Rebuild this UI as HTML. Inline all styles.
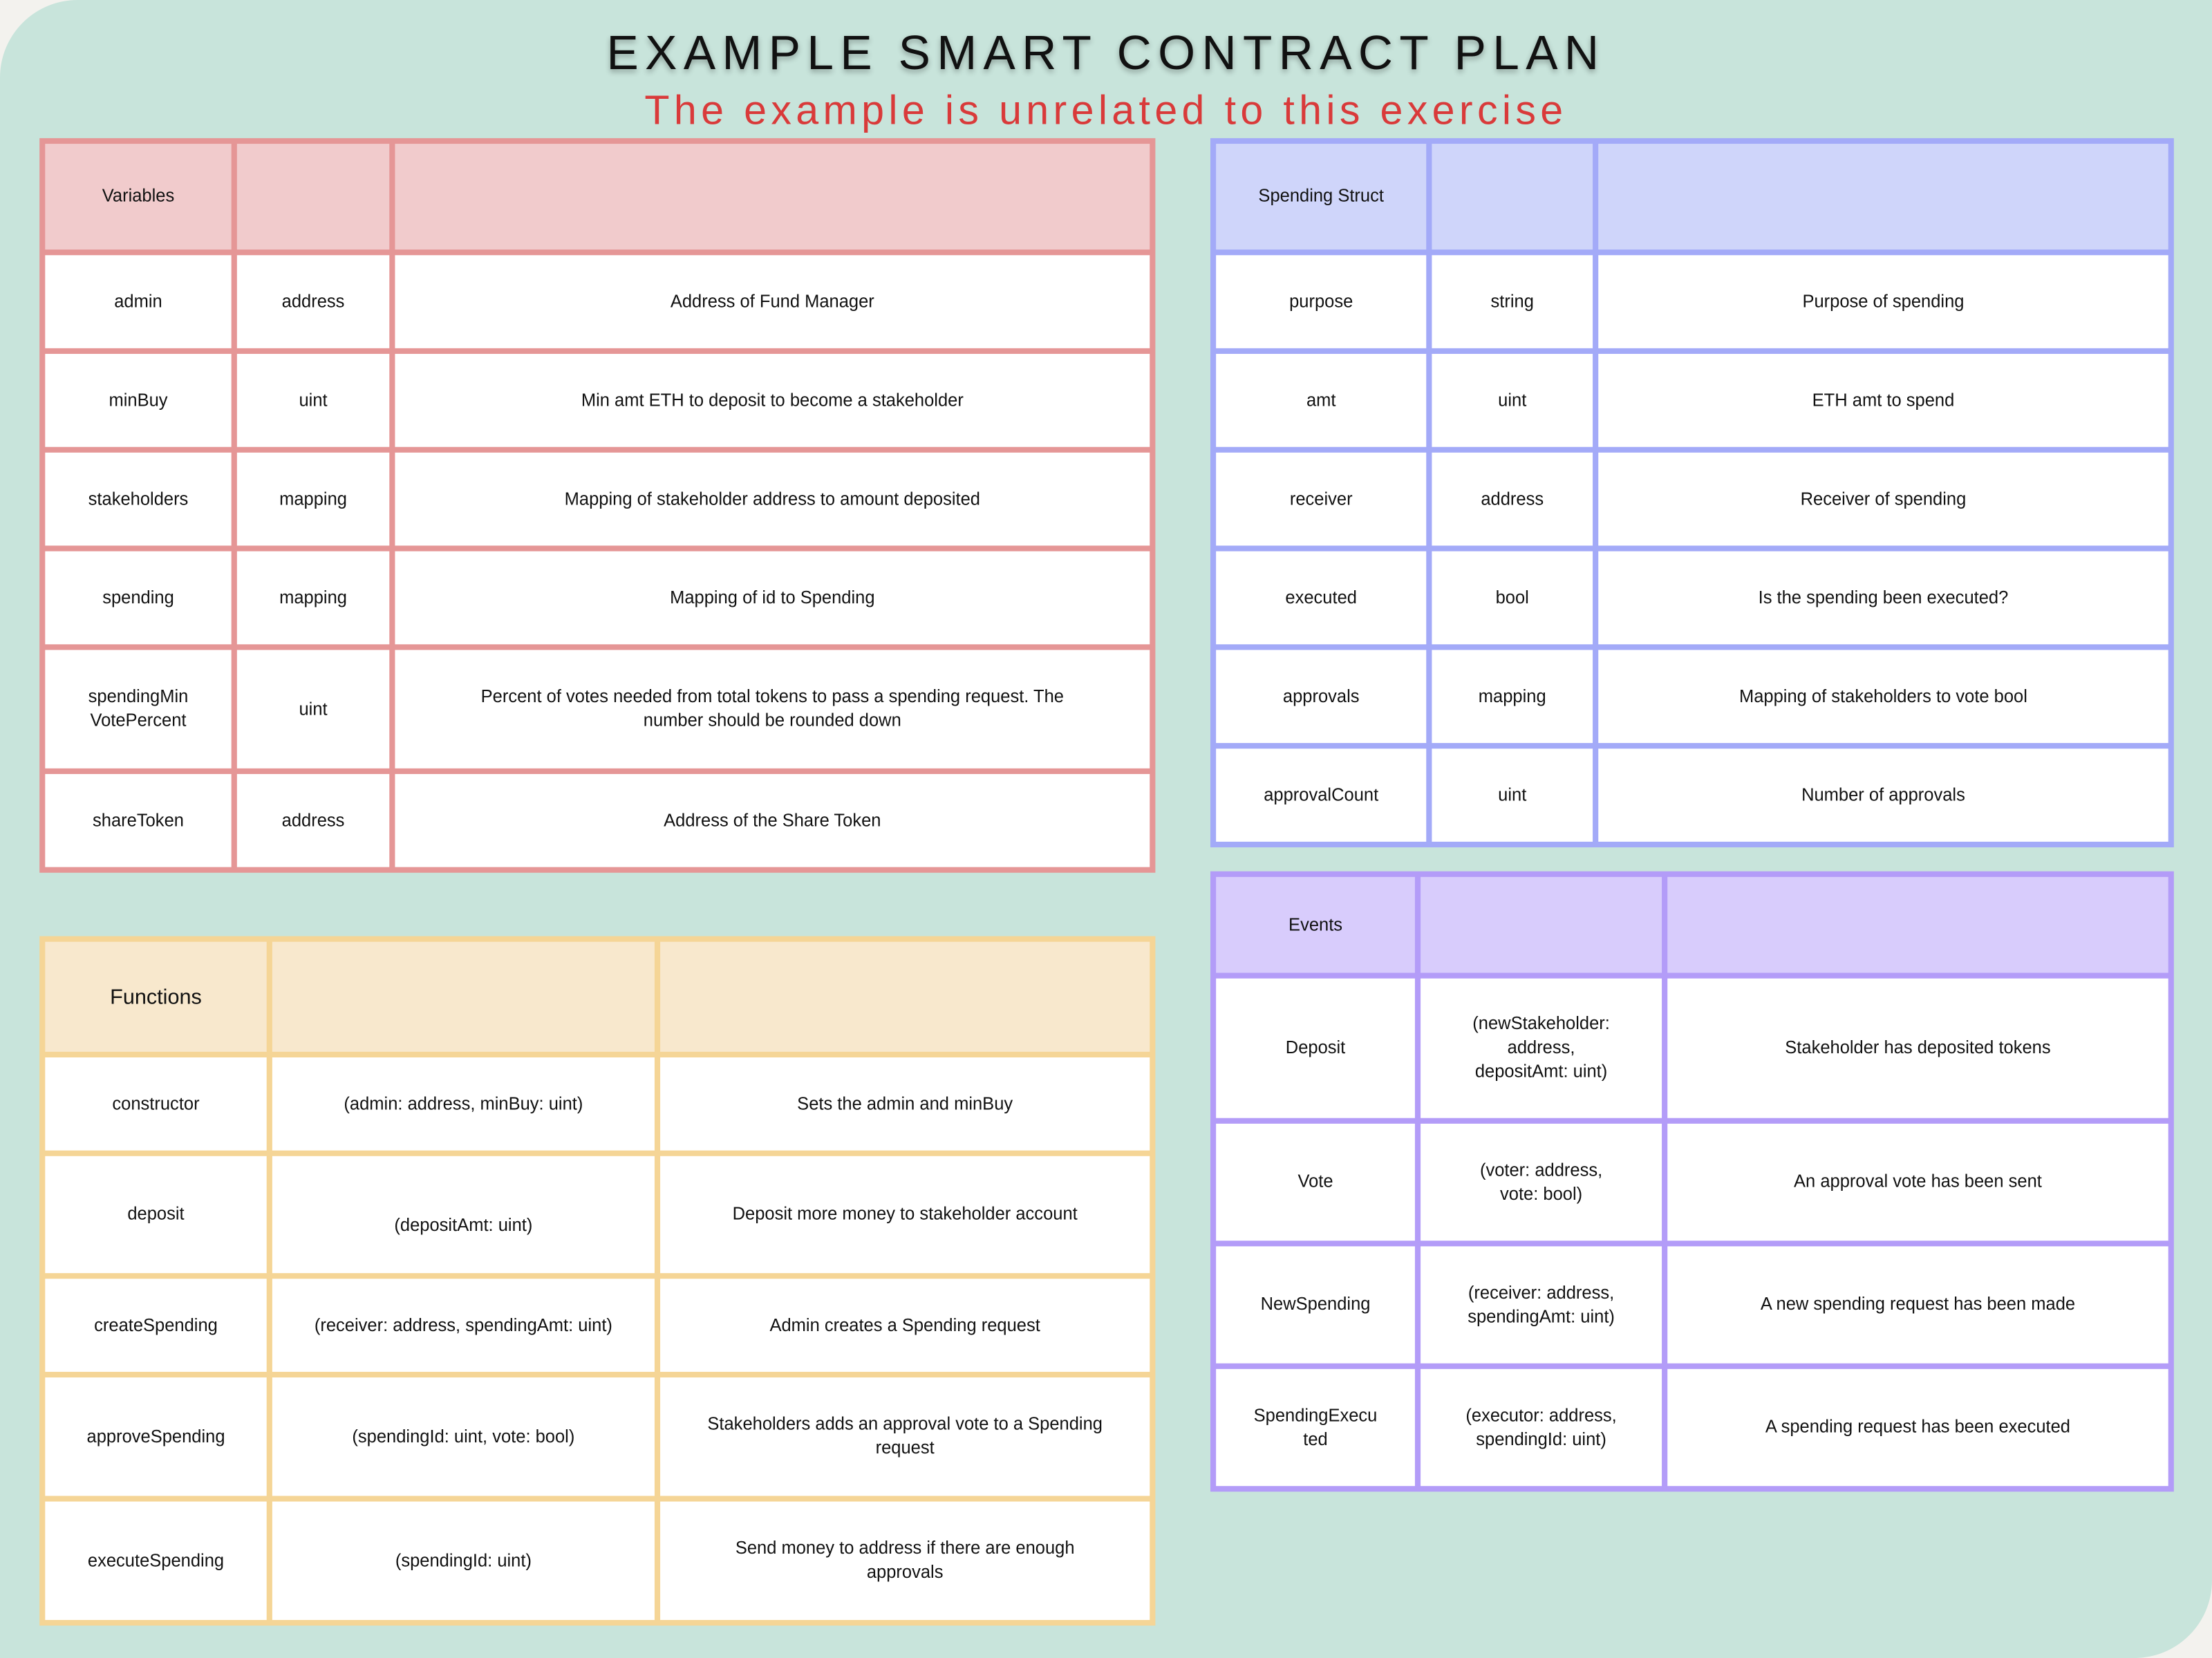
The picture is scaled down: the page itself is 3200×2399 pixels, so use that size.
<!DOCTYPE html>
<html><head><meta charset="utf-8"><style>
html,body{margin:0;padding:0;background:#f3f2ee;}
#wrap{width:3200px;height:2399px;overflow:hidden;position:relative;background:#f3f2ee;}
#page{position:absolute;left:0;top:0;width:1568px;height:1176px;transform-origin:0 0;transform:scale(2.0408,2.0400);background:#c8e4db;border-radius:55px 0 55px 0;font-family:"Liberation Sans",sans-serif;}
.title{position:absolute;left:0;width:1568px;text-align:center;top:19px;font-size:34px;letter-spacing:4.6px;color:#111;text-shadow:0 2px 4px rgba(0,0,0,0.3);}
.sub{position:absolute;left:0;width:1568px;text-align:center;top:63px;font-size:29px;letter-spacing:3.1px;color:#d93a3a;}
.tbl{position:absolute;display:grid;gap:4px;padding:4px;box-sizing:border-box;}
.tbl div{display:flex;align-items:center;justify-content:center;text-align:center;background:#fff;font-size:12.5px;color:#111;padding:0 10px;line-height:17px;}
#vars{left:28px;top:98px;width:791px;background:#e59696;grid-template-columns:132px 108px 535px;grid-template-rows:75px 66px 66px 66px 66px 84px 66px;}
#vars .h{background:#f1cbcc;}
#spend{left:858px;top:98px;width:683px;background:#a3aaf8;grid-template-columns:149px 114px 404px;grid-template-rows:75px 66px 66px 66px 66px 66px 66px;}
#spend .h{background:#cfd5fa;}
#funcs{left:28px;top:664px;width:791px;background:#f5d596;grid-template-columns:157px 271px 347px;grid-template-rows:78px 66px 83px 66px 84px 84px;}
#funcs .h{background:#f8e8cd;}
#events{left:858px;top:618px;width:683px;background:#b39cf8;grid-template-columns:141px 171px 355px;grid-template-rows:68px 99px 83px 83px 83px;}
#events .h{background:#d8ccfc;}
</style></head><body>
<div id="wrap">
<div id="page">
<div class="title">EXAMPLE SMART CONTRACT PLAN</div>
<div class="sub">The example is unrelated to this exercise</div>

<div class="tbl" id="vars">
<div class="h">Variables</div><div class="h"></div><div class="h"></div>
<div>admin</div><div>address</div><div>Address of Fund Manager</div>
<div>minBuy</div><div>uint</div><div>Min amt ETH to deposit to become a stakeholder</div>
<div>stakeholders</div><div>mapping</div><div>Mapping of stakeholder address to amount deposited</div>
<div>spending</div><div>mapping</div><div>Mapping of id to Spending</div>
<div>spendingMin<br>VotePercent</div><div>uint</div><div>Percent of votes needed from total tokens to pass a spending request. The<br>number should be rounded down</div>
<div>shareToken</div><div>address</div><div>Address of the Share Token</div>
</div>

<div class="tbl" id="spend">
<div class="h">Spending Struct</div><div class="h"></div><div class="h"></div>
<div>purpose</div><div>string</div><div>Purpose of spending</div>
<div>amt</div><div>uint</div><div>ETH amt to spend</div>
<div>receiver</div><div>address</div><div>Receiver of spending</div>
<div>executed</div><div>bool</div><div>Is the spending been executed?</div>
<div>approvals</div><div>mapping</div><div>Mapping of stakeholders to vote bool</div>
<div>approvalCount</div><div>uint</div><div>Number of approvals</div>
</div>

<div class="tbl" id="funcs">
<div class="h" style="font-size:15px">Functions</div><div class="h"></div><div class="h"></div>
<div>constructor</div><div>(admin: address, minBuy: uint)</div><div>Sets the admin and minBuy</div>
<div>deposit</div><div style="padding-top:16px">(depositAmt: uint)</div><div>Deposit more money to stakeholder account</div>
<div>createSpending</div><div>(receiver: address, spendingAmt: uint)</div><div>Admin creates a Spending request</div>
<div>approveSpending</div><div>(spendingId: uint, vote: bool)</div><div>Stakeholders adds an approval vote to a Spending<br>request</div>
<div>executeSpending</div><div>(spendingId: uint)</div><div>Send money to address if there are enough<br>approvals</div>
</div>

<div class="tbl" id="events">
<div class="h">Events</div><div class="h"></div><div class="h"></div>
<div>Deposit</div><div>(newStakeholder:<br>address,<br>depositAmt: uint)</div><div>Stakeholder has deposited tokens</div>
<div>Vote</div><div>(voter: address,<br>vote: bool)</div><div>An approval vote has been sent</div>
<div>NewSpending</div><div>(receiver: address,<br>spendingAmt: uint)</div><div>A new spending request has been made</div>
<div>SpendingExecu<br>ted</div><div>(executor: address,<br>spendingId: uint)</div><div>A spending request has been executed</div>
</div>
</div>
</div>
</body></html>
